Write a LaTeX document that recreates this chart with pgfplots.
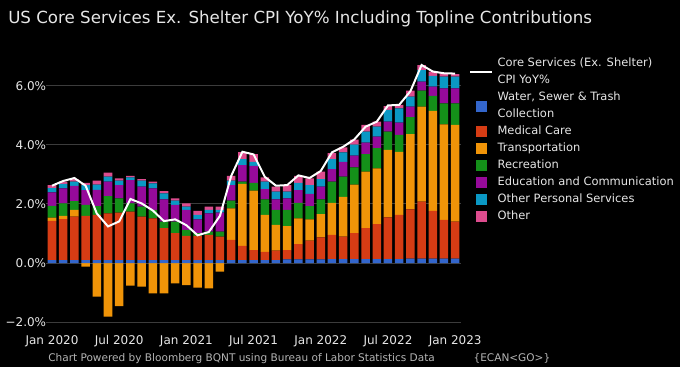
\documentclass[border=0pt]{standalone}
\usepackage{pgfplots}
\pgfplotsset{compat=1.18}
\usepackage{pgfplotstable}
\usepackage{fontspec}
\setmainfont{DejaVu Sans}
\definecolor{cW}{HTML}{3366CC}
\definecolor{cM}{HTML}{D63C14}
\definecolor{cT}{HTML}{F09408}
\definecolor{cR}{HTML}{149019}
\definecolor{cE}{HTML}{960A9A}
\definecolor{cP}{HTML}{0A98C4}
\definecolor{cO}{HTML}{DD4C8E}
\definecolor{gridc}{HTML}{3C3C3C}
\definecolor{txt}{HTML}{E6E6E6}
\definecolor{foot}{HTML}{B4B4B4}

\pgfplotstableread{
x W M T R E P O L
0 0.10 1.33 0.11 0.40 0.45 0.15 0.10 2.62
1 0.10 1.39 0.11 0.42 0.51 0.15 0.08 2.78
2 0.10 1.47 0.23 0.30 0.51 0.15 0.08 2.88
3 0.10 1.50 -0.12 0.37 0.50 0.17 0.08 2.62
4 0.10 1.53 -1.14 0.30 0.55 0.18 0.13 1.68
5 0.10 1.58 -1.82 0.59 0.49 0.17 0.13 1.24
6 0.10 1.61 -1.46 0.48 0.45 0.15 0.08 1.41
7 0.10 1.64 -0.77 0.28 0.79 0.09 0.05 2.17
8 0.10 1.47 -0.80 0.34 0.68 0.20 0.05 2.02
9 0.10 1.41 -1.03 0.29 0.73 0.17 0.06 1.78
10 0.10 1.08 -1.03 0.22 0.76 0.20 0.08 1.42
11 0.10 0.91 -0.69 0.39 0.57 0.14 0.08 1.48
12 0.10 0.82 -0.75 0.20 0.68 0.11 0.11 1.28
13 0.10 0.82 -0.83 0.09 0.47 0.15 0.14 0.94
14 0.10 0.85 -0.86 0.11 0.62 0.12 0.11 1.05
15 0.10 0.79 -0.29 0.17 0.65 0.09 0.11 1.60
16 0.10 0.68 1.07 0.26 0.53 0.15 0.16 2.95
17 0.10 0.48 2.10 0.08 0.56 0.20 0.24 3.77
18 0.10 0.34 2.01 0.27 0.57 0.14 0.26 3.68
19 0.10 0.28 1.25 0.53 0.34 0.26 0.14 2.92
20 0.10 0.32 0.87 0.51 0.36 0.26 0.17 2.62
21 0.12 0.32 0.81 0.55 0.39 0.23 0.22 2.64
22 0.12 0.52 0.87 0.53 0.43 0.25 0.23 2.97
23 0.12 0.64 0.72 0.45 0.41 0.30 0.23 2.88
24 0.12 0.75 0.79 0.50 0.43 0.25 0.26 3.12
25 0.13 0.82 1.09 0.72 0.42 0.34 0.20 3.75
26 0.13 0.76 1.35 0.69 0.50 0.32 0.17 3.94
27 0.13 0.88 1.65 0.58 0.40 0.37 0.17 4.19
28 0.13 1.05 1.92 0.59 0.39 0.37 0.23 4.62
29 0.13 1.19 1.89 0.68 0.39 0.34 0.17 4.79
30 0.13 1.42 2.28 0.62 0.34 0.40 0.13 5.34
31 0.13 1.50 2.14 0.57 0.42 0.48 0.12 5.36
32 0.15 1.67 2.55 0.57 0.36 0.34 0.20 5.82
33 0.15 1.93 3.22 0.54 0.31 0.39 0.17 6.71
34 0.15 1.62 3.39 0.50 0.32 0.36 0.15 6.49
35 0.15 1.31 3.24 0.71 0.51 0.40 0.11 6.43
36 0.15 1.25 3.28 0.73 0.51 0.40 0.08 6.42
}\data

% legend images: a fixed-width invisible path sets the cell, the mark may be shifted
\newcommand{\sq}[2]{\addlegendimage{legend image code/.code={\path (0pt,0pt) -- (16.5pt,0pt); \fill[overlay,#1] (4.5pt,#2-3.75pt) rectangle (12pt,#2+3.75pt);}}}
\newcommand{\emptyimg}{\addlegendimage{legend image code/.code={\path (0pt,0pt) -- (16.5pt,0pt);}}}

\begin{document}
\begin{tikzpicture}
\fill[black] (0,0) rectangle (510pt,275.25pt);
\useasboundingbox (0,0) rectangle (510pt,275.25pt);
\node[anchor=base west, text=txt, font=\fontsize{12.5}{15}\selectfont, inner sep=0pt] at (6pt,257.25pt) {US Core Services Ex. Shelter CPI YoY\% Including Topline Contributions};
\node[anchor=base west, text=foot, font=\fontsize{7.9}{9.5}\selectfont, inner sep=0pt] at (36pt,4.5pt) {Chart Powered by Bloomberg BQNT using Bureau of Labor Statistics Data};
\node[anchor=base west, text=foot, font=\fontsize{7.9}{9.5}\selectfont, inner sep=0pt] at (355pt,4.5pt) {\{ECAN<GO>\}};

\begin{axis}[
  at={(34.8pt,28.2pt)}, anchor=south west,
  scale only axis, width=311.2pt, height=203.6pt,
  xmin=-0.5, xmax=36.55, ymin=-2.25, ymax=6.95,
  ybar stacked, bar width=0.76,
  axis line style={draw=none},
  major tick length=0pt,
  ymajorgrids, grid style={color=gridc, line width=0.75pt},
  ytick={-2,0,2,4,6},
  yticklabels={−2.0\%,0.0\%,2.0\%,4.0\%,6.0\%},
  yticklabel style={anchor=east, inner sep=0pt, text=txt, font=\fontsize{9}{10}\selectfont},
  xtick={0,6,...,36},
  xticklabels={Jan 2020,Jul 2020,Jan 2021,Jul 2021,Jan 2022,Jul 2022,Jan 2023},
  xticklabel style={anchor=north, inner sep=0pt, yshift=-4.5pt, text=txt, font=\fontsize{9}{10}\selectfont},
  legend cell align=left,
  legend style={at={(1.0209,1.001)}, anchor=north west, draw=none, fill=none,
    inner sep=0pt, outer sep=0pt, row sep=3.17pt, column sep=3.75pt,
    font=\fontsize{8.6}{11.25}\selectfont,
    nodes={inner sep=0pt, text=txt, text height=7pt, text depth=2.5pt}},
]
\addlegendimage{legend image code/.code={\path (0pt,0pt) -- (16.5pt,0pt); \draw[overlay, white, line width=1.5pt] (0pt,-6.3pt) -- (16.5pt,-6.3pt);}}
\addlegendentry{Core Services (Ex. Shelter)}
\emptyimg\addlegendentry{CPI YoY\%}
\sq{cW}{-6.3pt}\addlegendentry{Water, Sewer \& Trash}
\emptyimg\addlegendentry{Collection}
\sq{cM}{0pt}\addlegendentry{Medical Care}
\sq{cT}{0pt}\addlegendentry{Transportation}
\sq{cR}{0pt}\addlegendentry{Recreation}
\sq{cE}{0pt}\addlegendentry{Education and Communication}
\sq{cP}{0pt}\addlegendentry{Other Personal Services}
\sq{cO}{0pt}\addlegendentry{Other}

\addplot[fill=cW, draw=none, forget plot] table[x=x,y=W]{\data};
\addplot[fill=cM, draw=none, forget plot] table[x=x,y=M]{\data};
\addplot[fill=cT, draw=none, forget plot] table[x=x,y=T]{\data};
\addplot[fill=cR, draw=none, forget plot] table[x=x,y=R]{\data};
\addplot[fill=cE, draw=none, forget plot] table[x=x,y=E]{\data};
\addplot[fill=cP, draw=none, forget plot] table[x=x,y=P]{\data};
\addplot[fill=cO, draw=none, forget plot] table[x=x,y=O]{\data};
\end{axis}

\begin{axis}[
  at={(34.8pt,28.2pt)}, anchor=south west,
  scale only axis, width=311.2pt, height=203.6pt,
  xmin=-0.5, xmax=36.55, ymin=-2.25, ymax=6.95,
  hide axis,
]
\addplot[white, line width=1.5pt, sharp plot, no marks] table[x=x,y=L]{\data};
\end{axis}
\end{tikzpicture}
\end{document}
